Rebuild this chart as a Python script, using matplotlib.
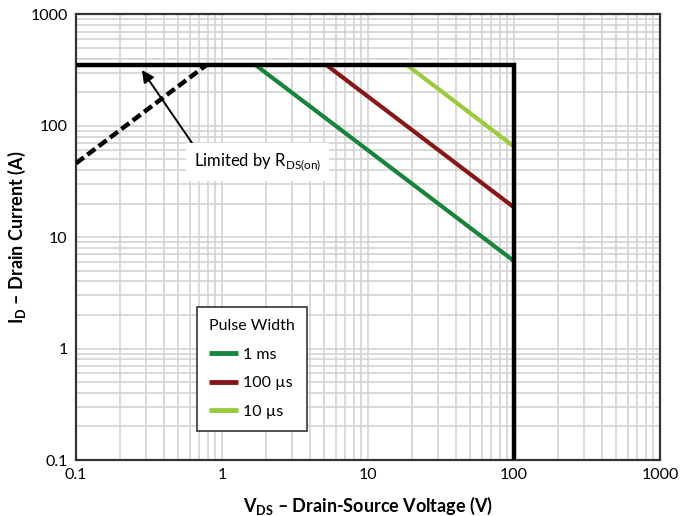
import matplotlib
matplotlib.use("Agg")
import matplotlib.pyplot as plt
from matplotlib.ticker import FixedLocator, FixedFormatter, NullFormatter, LogLocator

plt.rcParams['font.family'] = ['Lato', 'DejaVu Sans']
plt.rcParams['mathtext.fontset'] = 'custom'
plt.rcParams['mathtext.rm'] = 'Lato'
plt.rcParams['mathtext.bf'] = 'Lato:bold'

# ---- data ----
pulse_labels = ['1 ms', '100 µs', '10 µs']
v_1ms = [1.7, 100]
i_1ms = [350, 6.1]
v_100us = [5.2, 100]
i_100us = [350, 18.5]
v_10us = [18.5, 100]
i_10us = [350, 65]

v_limit = [0.1, 100, 100]
i_limit = [350, 350, 0.1]

v_rds = [0.1, 0.78]
i_rds = [46, 350]

x_ticks = [0.1, 1, 10, 100, 1000]
x_tick_labels = ['0.1', '1', '10', '100', '1000']
y_ticks = [0.1, 1, 10, 100, 1000]
y_tick_labels = ['0.1', '1', '10', '100', '1000']

annot_tip = (0.283, 316)
annot_text_pos = (0.643, 47.2)

colors = ['#17843c', '#881717', '#9bcb3b']

fig = plt.figure(figsize=(6.97, 5.16), dpi=100)
ax = fig.add_axes([76/697, 1 - 460/516, (660-76)/697, (460-14.3)/516])
ax.set_xscale('log')
ax.set_yscale('log')
ax.set_xlim(0.1, 1000)
ax.set_ylim(0.1, 1000)

ax.xaxis.set_major_locator(FixedLocator(x_ticks))
ax.xaxis.set_major_formatter(FixedFormatter(x_tick_labels))
ax.yaxis.set_major_locator(FixedLocator(y_ticks))
ax.yaxis.set_major_formatter(FixedFormatter(y_tick_labels))
ax.xaxis.set_minor_locator(LogLocator(base=10, subs=range(2, 10)))
ax.yaxis.set_minor_locator(LogLocator(base=10, subs=range(2, 10)))
ax.xaxis.set_minor_formatter(NullFormatter())
ax.yaxis.set_minor_formatter(NullFormatter())

ax.grid(True, which='both', color='#d3d3d3', linewidth=1.2)
ax.set_axisbelow(True)
ax.tick_params(which='both', length=0)
ax.tick_params(axis='x', pad=6, labelsize=11.5)
ax.tick_params(axis='y', pad=6, labelsize=11.5)
for s in ax.spines.values():
    s.set_color('#333333')
    s.set_linewidth(1.6)

series = [(v_1ms, i_1ms), (v_100us, i_100us), (v_10us, i_10us)]
for (v, i), c, lab in zip(series, colors, pulse_labels):
    ax.plot(v, i, color=c, linewidth=3.0, label=lab, solid_capstyle='butt', zorder=3)

ax.plot(v_limit, i_limit, color='black', linewidth=3.2, zorder=4, solid_joinstyle='miter')
ax.plot(v_rds, i_rds, color='black', linewidth=3.2, linestyle=(0, (2.2, 1.0)), zorder=4)

ax.annotate('Limited by R$_{\\mathregular{DS(on)}}$', xy=annot_tip, xytext=annot_text_pos,
            ha='left', va='center', fontsize=12,
            bbox=dict(boxstyle='square,pad=0.5', fc='white', ec='none'),
            arrowprops=dict(arrowstyle='-|>', color='black', lw=1.4, mutation_scale=18,
                            relpos=(0.03, 1.0), shrinkA=0, shrinkB=0),
            zorder=5)

leg = ax.legend(title='Pulse Width', loc='upper left', bbox_to_anchor=(0.207, 0.343),
                borderaxespad=0, fontsize=11.5, title_fontsize=11.5, frameon=True,
                fancybox=False, edgecolor='#333333', framealpha=1,
                handlelength=1.8, handletextpad=0.35, labelspacing=0.9,
                borderpad=0.75, alignment='left')
leg.get_frame().set_linewidth(1.2)
for h in leg.legend_handles:
    h.set_linewidth(3.5)

ax.set_xlabel('V$_{\\mathregular{DS}}$ – Drain-Source Voltage (V)', fontsize=13, fontweight='bold', labelpad=9)
ax.set_ylabel('I$_{\\mathregular{D}}$ – Drain Current (A)', fontsize=13, fontweight='bold', labelpad=2)

fig.savefig('out.png', dpi=100)
